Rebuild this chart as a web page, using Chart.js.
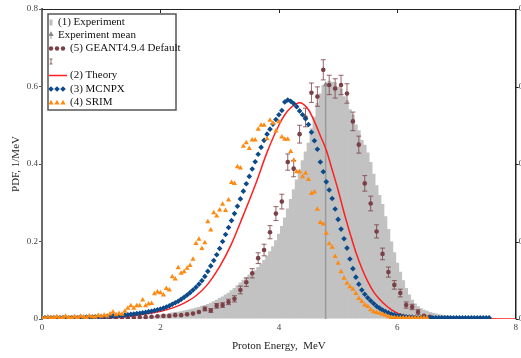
<!DOCTYPE html>
<html>
<head>
<meta charset="utf-8">
<script src="https://cdn.jsdelivr.net/npm/chart.js@4.4.1/dist/chart.umd.min.js"></script>
<style>
  html, body { margin: 0; padding: 0; background: #fff; overflow: hidden; }
  #wrap { width: 521px; height: 358px; }
</style>
</head>
<body>
<div id="wrap"><canvas id="pdfChart" width="521" height="358"></canvas></div>
<script>
// Proton energy PDF: experiment vs. theory and simulations

// energy grid (MeV) shared by the histogram, MCNPX and SRIM series
const energyGrid = [
    0, 0.05, 0.1, 0.15, 0.2, 0.25, 0.3, 0.35, 0.4, 0.45,
    0.5, 0.55, 0.6, 0.65, 0.7, 0.75, 0.8, 0.85, 0.9, 0.95,
    1, 1.05, 1.1, 1.15, 1.2, 1.25, 1.3, 1.35, 1.4, 1.45,
    1.5, 1.55, 1.6, 1.65, 1.7, 1.75, 1.8, 1.85, 1.9, 1.95,
    2, 2.05, 2.1, 2.15, 2.2, 2.25, 2.3, 2.35, 2.4, 2.45,
    2.5, 2.55, 2.6, 2.65, 2.7, 2.75, 2.8, 2.85, 2.9, 2.95,
    3, 3.05, 3.1, 3.15, 3.2, 3.25, 3.3, 3.35, 3.4, 3.45,
    3.5, 3.55, 3.6, 3.65, 3.7, 3.75, 3.8, 3.85, 3.9, 3.95,
    4, 4.05, 4.1, 4.15, 4.2, 4.25, 4.3, 4.35, 4.4, 4.45,
    4.5, 4.55, 4.6, 4.65, 4.7, 4.75, 4.8, 4.85, 4.9, 4.95,
    5, 5.05, 5.1, 5.15, 5.2, 5.25, 5.3, 5.35, 5.4, 5.45,
    5.5, 5.55, 5.6, 5.65, 5.7, 5.75, 5.8, 5.85, 5.9, 5.95,
    6, 6.05, 6.1, 6.15, 6.2, 6.25, 6.3, 6.35, 6.4, 6.45,
    6.5, 6.55, 6.6, 6.65, 6.7, 6.75, 6.8, 6.85, 6.9, 6.95,
    7, 7.05, 7.1, 7.15, 7.2, 7.25, 7.3, 7.35, 7.4, 7.45,
    7.5, 7.55, 7.6, 7.65, 7.7, 7.75, 7.8, 7.85, 7.9, 7.95,
    8
];

// (1) Experiment histogram
const experimentPdf = [
    0, 0, 0, 0, 0, 0, 0, 0, 0, 0,
    0, 0, 0, 0, 0, 0, 0, 0, 0, 0,
    0, 0, 0, 0, 0, 0, 0, 0.001, 0.001, 0.002,
    0.002, 0.003, 0.003, 0.004, 0.005, 0.005, 0.006, 0.007, 0.008, 0.009,
    0.011, 0.012, 0.013, 0.015, 0.017, 0.018, 0.019, 0.020, 0.022, 0.023,
    0.025, 0.027, 0.029, 0.031, 0.034, 0.036, 0.039, 0.042, 0.046, 0.050,
    0.054, 0.058, 0.063, 0.068, 0.074, 0.080, 0.087, 0.094, 0.101, 0.108,
    0.115, 0.120, 0.126, 0.134, 0.143, 0.152, 0.163, 0.175, 0.188, 0.203,
    0.220, 0.240, 0.262, 0.285, 0.310, 0.335, 0.360, 0.385, 0.410, 0.432,
    0.455, 0.492, 0.522, 0.558, 0.582, 0.603, 0.607, 0.615, 0.612, 0.611,
    0.600, 0.594, 0.575, 0.565, 0.541, 0.528, 0.502, 0.487, 0.462, 0.450,
    0.430, 0.405, 0.375, 0.345, 0.320, 0.297, 0.265, 0.232, 0.200, 0.172,
    0.145, 0.122, 0.100, 0.080, 0.063, 0.050, 0.040, 0.033, 0.028, 0.024,
    0.021, 0.018, 0.016, 0.014, 0.012, 0.011, 0.010, 0.009, 0.008, 0.007,
    0.007, 0.006, 0.005, 0.005, 0.004, 0.004, 0.003, 0.003, 0.002, 0.002,
    0.001, 0, 0, 0, 0, 0, 0, 0, 0, 0,
    0
];

// (3) MCNPX, 0 .. 7.55 MeV
const mcnpxPdf = [
    0.003, 0.003, 0.004, 0.003, 0.003, 0.004, 0.003, 0.004, 0.004, 0.003,
    0.004, 0.004, 0.004, 0.005, 0.004, 0.005, 0.005, 0.005, 0.006, 0.005,
    0.006, 0.006, 0.007, 0.007, 0.008, 0.008, 0.009, 0.009, 0.010, 0.011,
    0.012, 0.013, 0.014, 0.015, 0.016, 0.017, 0.019, 0.020, 0.022, 0.024,
    0.026, 0.028, 0.031, 0.034, 0.038, 0.042, 0.046, 0.051, 0.056, 0.062,
    0.068, 0.075, 0.082, 0.090, 0.099, 0.110, 0.123, 0.137, 0.151, 0.166,
    0.182, 0.200, 0.218, 0.236, 0.254, 0.272, 0.291, 0.310, 0.330, 0.349,
    0.368, 0.387, 0.406, 0.425, 0.443, 0.461, 0.477, 0.490, 0.503, 0.515,
    0.527, 0.538, 0.560, 0.565, 0.562, 0.556, 0.548, 0.537, 0.527, 0.517,
    0.502, 0.482, 0.460, 0.438, 0.405, 0.380, 0.354, 0.333, 0.311, 0.284,
    0.257, 0.232, 0.207, 0.183, 0.155, 0.130, 0.108, 0.090, 0.075, 0.064,
    0.055, 0.047, 0.040, 0.033, 0.028, 0.023, 0.019, 0.016, 0.013, 0.011,
    0.009, 0.008, 0.007, 0.006, 0.005, 0.005, 0.004, 0.004, 0.004, 0.003,
    0.003, 0.003, 0.003, 0.003, 0.003, 0.003, 0.003, 0.003, 0.003, 0.003,
    0.003, 0.003, 0.003, 0.003, 0.003, 0.003, 0.003, 0.003, 0.003, 0.003,
    0.003, 0.003
];

// (4) SRIM, 0 .. 6.5 MeV
const srimPdf = [
    0.004, 0.002, 0.005, 0.003, 0.004, 0.006, 0.003, 0.004, 0.007, 0.004,
    0.003, 0.006, 0.004, 0.007, 0.005, 0.004, 0.008, 0.006, 0.005, 0.009,
    0.007, 0.010, 0.008, 0.013, 0.018, 0.011, 0.014, 0.012, 0.020, 0.028,
    0.034, 0.028, 0.034, 0.034, 0.049, 0.034, 0.039, 0.040, 0.065, 0.070,
    0.068, 0.062, 0.079, 0.075, 0.109, 0.103, 0.132, 0.118, 0.122, 0.131,
    0.138, 0.154, 0.195, 0.206, 0.182, 0.197, 0.251, 0.230, 0.274, 0.266,
    0.281, 0.296, 0.280, 0.307, 0.352, 0.350, 0.393, 0.390, 0.446, 0.455,
    0.440, 0.462, 0.462, 0.490, 0.500, 0.500, 0.465, 0.513, 0.505, 0.485,
    0.509, 0.470, 0.464, 0.464, 0.432, 0.410, 0.380, 0.380, 0.367, 0.376,
    0.360, 0.324, 0.328, 0.283, 0.249, 0.245, 0.221, 0.194, 0.185, 0.161,
    0.144, 0.122, 0.105, 0.092, 0.083, 0.077, 0.066, 0.053, 0.045, 0.036,
    0.032, 0.024, 0.019, 0.017, 0.015, 0.012, 0.010, 0.006, 0.004, 0.004,
    0.003, 0.003, 0.003, 0.003, 0.003, 0.003, 0.003, 0.003, 0.003, 0.003,
    0.003
];

// (5) GEANT4.9.4 Default, with statistical errors
const geantEnergy = [
    1.05, 1.15, 1.25, 1.35, 1.45, 1.55, 1.65, 1.75, 1.85, 1.95,
    2.05, 2.15, 2.25, 2.35, 2.45, 2.55, 2.65, 2.75, 2.85, 2.95,
    3.05, 3.15, 3.25, 3.35, 3.45, 3.55, 3.65, 3.75, 3.85, 3.95,
    4.05, 4.15, 4.25, 4.35, 4.45, 4.55, 4.65, 4.75, 4.85, 4.95,
    5.05, 5.15, 5.25, 5.35, 5.45, 5.55, 5.65, 5.75, 5.85, 5.95,
    6.05, 6.15, 6.25, 6.35, 6.45, 6.55
];
const geantPdf = [
    0.001, 0.002, 0.002, 0.003, 0.003, 0.004, 0.005, 0.005, 0.006, 0.007,
    0.008, 0.008, 0.010, 0.010, 0.012, 0.014, 0.018, 0.026, 0.022, 0.034,
    0.036, 0.044, 0.052, 0.075, 0.095, 0.118, 0.157, 0.178, 0.224, 0.272,
    0.303, 0.405, 0.388, 0.477, 0.520, 0.584, 0.574, 0.643, 0.604, 0.595,
    0.604, 0.582, 0.510, 0.450, 0.350, 0.298, 0.226, 0.168, 0.121, 0.088,
    0.067, 0.036, 0.031, 0.018, 0.008, 0.006
];
const geantErr = [
    0.001, 0.001, 0.001, 0.001, 0.001, 0.002, 0.002, 0.002, 0.002, 0.002,
    0.002, 0.002, 0.003, 0.003, 0.003, 0.003, 0.004, 0.005, 0.005, 0.006,
    0.006, 0.007, 0.008, 0.010, 0.011, 0.012, 0.014, 0.015, 0.017, 0.018,
    0.019, 0.021, 0.021, 0.023, 0.024, 0.025, 0.025, 0.026, 0.025, 0.025,
    0.025, 0.025, 0.024, 0.022, 0.020, 0.019, 0.017, 0.015, 0.013, 0.011,
    0.010, 0.008, 0.007, 0.006, 0.004, 0.004
];

// (2) Theory curve
const theoryEnergy = [
    0, 0.5, 1, 1.5, 1.8, 2, 2.2, 2.4, 2.6, 2.8,
    3, 3.2, 3.4, 3.6, 3.8, 4, 4.1, 4.2, 4.3, 4.35,
    4.4, 4.5, 4.6, 4.7, 4.8, 4.9, 5, 5.1, 5.2, 5.3,
    5.4, 5.5, 5.6, 5.7, 5.8, 5.9, 6, 6.1, 6.2, 6.4,
    6.8, 7.2, 8
];
const theoryPdf = [
    0.001, 0.002, 0.003, 0.008, 0.014, 0.020, 0.028, 0.041, 0.060, 0.090,
    0.135, 0.194, 0.268, 0.345, 0.430, 0.500, 0.527, 0.545, 0.556, 0.558,
    0.556, 0.540, 0.510, 0.473, 0.436, 0.385, 0.333, 0.275, 0.222, 0.172,
    0.131, 0.097, 0.070, 0.051, 0.036, 0.024, 0.015, 0.010, 0.007, 0.004,
    0.002, 0.001, 0
];

// experiment mean marker
const meanEnergy = [4.79, 4.79];
const meanPdf = [0, 0.605];

const xTicks = [0, 2, 4, 6, 8];
const yTicks = [0, 0.2, 0.4, 0.6, 0.8];

const SERIF = '"Liberation Serif", "Times New Roman", serif';
const COLORS = {
    hist: '#c2c2c2',
    mean: '#9a9a9a',
    geant: '#7b4047',
    geantBar: 'rgba(123, 64, 71, 0.8)',
    theory: '#ff1f1f',
    mcnpx: '#0c4a8a',
    srim: '#ff8a12'
};

const toPoints = (xs, ys) => ys.map((v, i) => ({ x: xs[i], y: v }));

// error bars for datasets that carry an "errors" array
const errorBarPlugin = {
    id: 'errorBars',
    beforeDatasetDraw(chart, args) {
        const ds = chart.data.datasets[args.index];
        if (!ds.errors) return;
        const { ctx, scales: { x, y } } = chart;
        ctx.save();
        ctx.strokeStyle = COLORS.geantBar;
        ctx.lineWidth = 1;
        ds.data.forEach((p, i) => {
            const e = ds.errors[i];
            if (e < 0.005) return;
            const px = x.getPixelForValue(p.x);
            const top = y.getPixelForValue(p.y + e);
            const bot = y.getPixelForValue(p.y - e);
            ctx.beginPath();
            ctx.moveTo(px, top); ctx.lineTo(px, bot);
            ctx.moveTo(px - 2.5, top); ctx.lineTo(px + 2.5, top);
            ctx.moveTo(px - 2.5, bot); ctx.lineTo(px + 2.5, bot);
            ctx.stroke();
        });
        ctx.restore();
    }
};

// top and right edges of the frame, with the clipped right-hand labels
const framePlugin = {
    id: 'frame',
    afterDatasetsDraw(chart) {
        const { ctx, chartArea: a, scales: { x, y } } = chart;
        ctx.save();
        ctx.strokeStyle = '#222';
        ctx.lineWidth = 1;
        ctx.beginPath();
        ctx.moveTo(a.left, a.top + 0.5);
        ctx.lineTo(a.right, a.top + 0.5);
        xTicks.slice(1, -1).forEach(v => {
            const px = Math.round(x.getPixelForValue(v)) + 0.5;
            ctx.moveTo(px, a.top);
            ctx.lineTo(px, a.top + 4);
        });
        ctx.stroke();

        ctx.lineWidth = 1.5;
        ctx.beginPath();
        ctx.moveTo(a.right, a.top);
        ctx.lineTo(a.right, a.bottom);
        ctx.stroke();

        ctx.lineWidth = 1;
        ctx.beginPath();
        yTicks.forEach(v => {
            const py = Math.round(y.getPixelForValue(v)) + 0.5;
            ctx.moveTo(a.right, py);
            ctx.lineTo(a.right + 3, py);
        });
        ctx.stroke();

        ctx.font = '9px ' + SERIF;
        ctx.fillStyle = '#444';
        ctx.textBaseline = 'middle';
        ctx.textAlign = 'left';
        yTicks.forEach(v => ctx.fillText(String(v), a.right + 3, y.getPixelForValue(v)));
        ctx.restore();
    }
};

// small marker helpers for the legend box
function dot(ctx, cx, cy, r) {
    ctx.beginPath();
    ctx.arc(cx, cy, r, 0, Math.PI * 2);
    ctx.fill();
}
function diamond(ctx, cx, cy, r) {
    ctx.beginPath();
    ctx.moveTo(cx, cy - r); ctx.lineTo(cx + r, cy);
    ctx.lineTo(cx, cy + r); ctx.lineTo(cx - r, cy);
    ctx.closePath();
    ctx.fill();
}
function triangle(ctx, cx, cy, r) {
    ctx.beginPath();
    ctx.moveTo(cx, cy - r);
    ctx.lineTo(cx + r * 0.95, cy + r * 0.7);
    ctx.lineTo(cx - r * 0.95, cy + r * 0.7);
    ctx.closePath();
    ctx.fill();
}

const legendPlugin = {
    id: 'boxLegend',
    afterDraw(chart) {
        const ctx = chart.ctx;
        const box = { x: 48, y: 14, w: 128, h: 96 };
        ctx.save();
        ctx.fillStyle = '#fff';
        ctx.fillRect(box.x, box.y, box.w, box.h);
        ctx.strokeStyle = '#555';
        ctx.lineWidth = 1.5;
        ctx.strokeRect(box.x, box.y, box.w, box.h);

        const rows = [22.5, 35, 48.5, 61.5, 75.5, 89, 102.5];

        // icons
        ctx.fillStyle = '#bdbdbd';
        ctx.fillRect(49.5, rows[0] - 3, 3, 6);

        ctx.strokeStyle = COLORS.mean;
        ctx.lineWidth = 1;
        ctx.beginPath();
        ctx.moveTo(51, rows[1] - 1); ctx.lineTo(51, rows[1] + 4);
        ctx.stroke();
        ctx.fillStyle = '#888';
        triangle(ctx, 51, rows[1] - 1, 2.8);

        ctx.fillStyle = COLORS.geant;
        [51, 57, 63].forEach(px => dot(ctx, px, rows[2], 2.2));

        ctx.strokeStyle = COLORS.geantBar;
        ctx.beginPath();
        ctx.moveTo(51, rows[3] - 2.5); ctx.lineTo(51, rows[3] + 2.5);
        ctx.moveTo(49.5, rows[3] - 2.5); ctx.lineTo(52.5, rows[3] - 2.5);
        ctx.moveTo(49.5, rows[3] + 2.5); ctx.lineTo(52.5, rows[3] + 2.5);
        ctx.stroke();

        ctx.strokeStyle = COLORS.theory;
        ctx.lineWidth = 1.5;
        ctx.beginPath();
        ctx.moveTo(49, rows[4]); ctx.lineTo(67, rows[4]);
        ctx.stroke();

        ctx.fillStyle = COLORS.mcnpx;
        [51, 57, 63].forEach(px => diamond(ctx, px, rows[5], 2.8));

        ctx.fillStyle = COLORS.srim;
        [51, 57, 63].forEach(px => triangle(ctx, px, rows[6], 2.8));

        // labels
        ctx.font = '11px ' + SERIF;
        ctx.fillStyle = '#111';
        ctx.textBaseline = 'middle';
        ctx.textAlign = 'left';
        ctx.fillText('(1) Experiment', 58, rows[0]);
        ctx.fillText('Experiment mean', 58, rows[1]);
        ctx.fillText('(5) GEANT4.9.4 Default', 70, rows[2]);
        ctx.fillText('(2) Theory', 70, rows[4]);
        ctx.fillText('(3) MCNPX', 70, rows[5]);
        ctx.fillText('(4) SRIM', 70, rows[6]);
        ctx.restore();
    }
};

const ctx = document.getElementById('pdfChart').getContext('2d');
const pdfChart = new Chart(ctx, {
    type: 'line',
    data: {
        datasets: [
            {
                // histogram bins drawn as slightly overlapping bars so no seams show
                type: 'bar',
                label: '(1) Experiment',
                data: toPoints(energyGrid, experimentPdf),
                backgroundColor: COLORS.hist,
                borderWidth: 0,
                categoryPercentage: 1,
                barPercentage: 1.25,
                order: 6
            },
            {
                label: 'Experiment mean',
                data: toPoints(meanEnergy, meanPdf),
                borderColor: COLORS.mean,
                borderWidth: 1.5,
                pointStyle: 'triangle',
                pointRadius: [0, 3.2],
                pointBackgroundColor: '#888',
                pointBorderWidth: 0,
                order: 5
            },
            {
                label: '(5) GEANT4.9.4 Default',
                data: toPoints(geantEnergy, geantPdf),
                errors: geantErr,
                showLine: false,
                pointStyle: 'circle',
                pointRadius: 2.3,
                pointBackgroundColor: COLORS.geant,
                pointBorderWidth: 0,
                order: 4
            },
            {
                label: '(2) Theory',
                data: toPoints(theoryEnergy, theoryPdf),
                borderColor: COLORS.theory,
                borderWidth: 1.5,
                cubicInterpolationMode: 'monotone',
                pointRadius: 0,
                order: 3
            },
            {
                label: '(3) MCNPX',
                data: toPoints(energyGrid, mcnpxPdf),
                showLine: false,
                pointStyle: 'rectRot',
                pointRadius: 2.8,
                pointBackgroundColor: COLORS.mcnpx,
                pointBorderWidth: 0,
                order: 2
            },
            {
                label: '(4) SRIM',
                data: toPoints(energyGrid, srimPdf),
                showLine: false,
                pointStyle: 'triangle',
                pointRadius: 3,
                pointBackgroundColor: COLORS.srim,
                pointBorderWidth: 0,
                order: 1
            }
        ]
    },
    options: {
        responsive: false,
        animation: false,
        devicePixelRatio: 1,
        events: [],
        layout: { padding: { top: 9, right: 5, left: 0, bottom: 0 } },
        plugins: {
            legend: { display: false },
            tooltip: { enabled: false }
        },
        scales: {
            x: {
                type: 'linear',
                min: 0,
                max: 8,
                offset: false,
                afterBuildTicks: scale => { scale.ticks = xTicks.map(v => ({ value: v })); },
                afterFit: scale => { scale.height = 39; },
                grid: { display: false, drawTicks: false, offset: false },
                border: { display: false },
                ticks: { padding: 3, color: '#444', font: { family: SERIF, size: 9 } },
                title: {
                    display: true,
                    text: 'Proton Energy,  MeV',
                    color: '#222',
                    font: { family: SERIF, size: 11 },
                    padding: { top: 0, bottom: 5 }
                }
            },
            y: {
                min: 0,
                max: 0.8,
                afterBuildTicks: scale => { scale.ticks = yTicks.map(v => ({ value: v })); },
                afterFit: scale => { scale.width = 42; },
                grid: { drawOnChartArea: false, drawTicks: true, tickLength: 3, color: '#555' },
                border: { color: '#6a6a6a', width: 2 },
                ticks: { padding: 1, color: '#444', font: { family: SERIF, size: 9 } },
                title: {
                    display: true,
                    text: 'PDF, 1/MeV',
                    color: '#222',
                    font: { family: SERIF, size: 11 },
                    padding: { top: 10, bottom: 0 }
                }
            }
        }
    },
    plugins: [errorBarPlugin, framePlugin, legendPlugin]
});
</script>
</body>
</html>
